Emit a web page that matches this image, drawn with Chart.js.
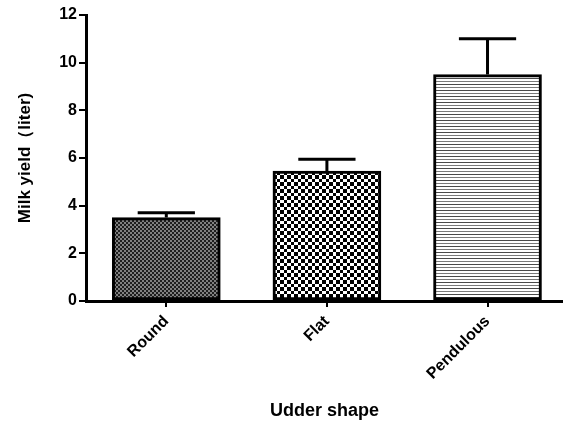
<!DOCTYPE html>
<html lang="en">
<head>
<meta charset="UTF-8">
<title>Milk yield by udder shape</title>
<script src="https://cdn.jsdelivr.net/npm/chart.js"></script>
<style>
  body { margin: 0; background: #fff; }
</style>
</head>
<body>
<canvas id="myCanvas" width="563" height="424"></canvas>
<script>
    // data
    const categories = ["Round", "Flat", "Pendulous"];
    const means = [3.5, 5.45, 9.5];
    const sem = [0.2, 0.5, 1.5];
    const yTicks = [0, 2, 4, 6, 8, 10, 12];

    const fam = "Arial, 'Liberation Sans', sans-serif";

    // fill patterns (one per bar)
    function makePattern(w, h, draw) {
        const c = document.createElement("canvas");
        c.width = w;
        c.height = h;
        const g = c.getContext("2d");
        g.fillStyle = "#fff";
        g.fillRect(0, 0, w, h);
        draw(g);
        return document.getElementById("myCanvas").getContext("2d").createPattern(c, "repeat");
    }

    const fineChecker = makePattern(4, 4, function (g) {
        g.fillStyle = "#808080";
        g.fillRect(0, 0, 4, 4);
        g.fillStyle = "#1e1e1e";
        g.fillRect(0, 0, 2, 2);
        g.fillRect(2, 2, 2, 2);
    });

    const coarseChecker = makePattern(7, 7, function (g) {
        g.fillStyle = "#000";
        g.fillRect(0, 0, 4, 4);
        g.fillRect(4, 4, 3, 3);
    });

    const hLines = makePattern(6, 6, function (g) {
        g.fillStyle = "#4a4a4a";
        g.fillRect(0, 0, 6, 1);
        g.fillStyle = "#7a7a7a";
        g.fillRect(0, 3, 6, 1);
    });

    const errorBars = {
        id: "errorBars",
        afterDatasetsDraw(chart) {
            const ctx = chart.ctx;
            const y = chart.scales.y;
            const meta = chart.getDatasetMeta(0);
            ctx.save();
            ctx.strokeStyle = "#000";
            ctx.lineWidth = 3;
            meta.data.forEach(function (bar, i) {
                const top = y.getPixelForValue(means[i] + sem[i]);
                const half = bar.width * 0.265;
                ctx.beginPath();
                ctx.moveTo(bar.x, bar.y);
                ctx.lineTo(bar.x, top);
                ctx.moveTo(bar.x - half, top);
                ctx.lineTo(bar.x + half, top);
                ctx.stroke();
            });
            ctx.restore();
        }
    };

    const dados = {
        datasets: [{
            label: "Milk yield",
            data: categories.map(function (c, i) { return { x: i, y: means[i] }; }),
            backgroundColor: [fineChecker, coarseChecker, hLines],
            borderColor: "#000",
            borderWidth: 3,
            borderSkipped: false,
            barThickness: 108
        }]
    };

    const config = {
        type: "bar",
        data: dados,
        options: {
            responsive: false,
            animation: false,
            layout: { padding: { top: 15, left: 0, right: 0, bottom: 0 } },
            plugins: {
                legend: { display: false },
                tooltip: { enabled: false }
            },
            scales: {
                x: {
                    type: "linear",
                    min: -0.5,
                    max: 2.47,
                    offset: false,
                    afterBuildTicks: function (s) {
                        s.ticks = categories.map(function (c, i) { return { value: i }; });
                    },
                    ticks: {
                        callback: function (v) { return categories[v]; },
                        minRotation: 45,
                        maxRotation: 45,
                        autoSkip: false,
                        color: "#000",
                        padding: 5,
                        font: { family: fam, size: 16, weight: "bold" }
                    },
                    grid: { drawOnChartArea: false, offset: false, tickLength: 6, color: "#000", lineWidth: 2 },
                    border: { color: "#000", width: 3 },
                    title: {
                        display: true,
                        text: "Udder shape",
                        color: "#000",
                        font: { family: fam, size: 18, weight: "bold" },
                        padding: { top: 0, bottom: 2 }
                    },
                    afterFit: function (s) { s.height = 123; }
                },
                y: {
                    min: 0,
                    max: 12,
                    afterBuildTicks: function (s) {
                        s.ticks = yTicks.map(function (v) { return { value: v }; });
                    },
                    ticks: {
                        color: "#000",
                        padding: 2,
                        font: { family: fam, size: 16, weight: "bold" }
                    },
                    grid: { drawOnChartArea: false, tickLength: 7, color: "#000", lineWidth: 2 },
                    border: { color: "#000", width: 3 },
                    title: {
                        display: true,
                        text: "Milk yield（liter)",
                        color: "#000",
                        font: { family: fam, size: 17, weight: "bold" },
                        padding: { top: 15, bottom: 0 }
                    },
                    afterFit: function (s) { s.width = 86; }
                }
            }
        },
        plugins: [errorBars]
    };

    new Chart(document.getElementById("myCanvas"), config);
</script>
</body>
</html>
